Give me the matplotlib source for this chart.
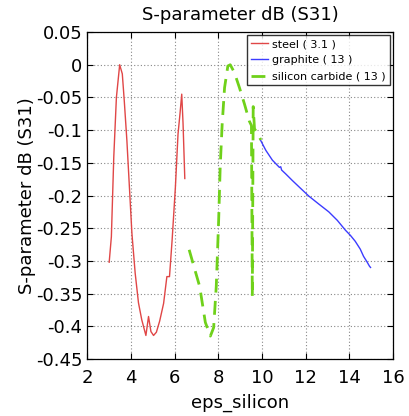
import matplotlib
matplotlib.use("Agg")
import matplotlib.pyplot as plt

steel_x = [3.01, 3.11, 3.22, 3.34, 3.49, 3.61, 3.70, 3.82, 4.05, 4.20, 4.35, 4.50, 4.69, 4.81, 4.92,
           5.04, 5.17, 5.32, 5.50, 5.65, 5.77, 5.89, 6.04, 6.16, 6.25, 6.33, 6.39, 6.47]
steel_y = [-0.302, -0.263, -0.141, -0.050, 0.0, -0.014, -0.055, -0.116, -0.258, -0.319, -0.364, -0.390,
           -0.414, -0.385, -0.408, -0.414, -0.409, -0.392, -0.365, -0.324, -0.324, -0.268, -0.187,
           -0.106, -0.075, -0.045, -0.090, -0.174]

graphite_x = [9.93, 10.18, 10.48, 10.80, 10.86, 10.90, 11.09, 11.39, 11.80, 12.15, 12.60, 13.06, 13.45,
              13.82, 14.05, 14.27, 14.50, 14.65, 14.80, 14.92, 14.97]
graphite_y = [-0.115, -0.131, -0.146, -0.157, -0.156, -0.161, -0.167, -0.177, -0.190, -0.201, -0.213,
              -0.225, -0.238, -0.253, -0.261, -0.270, -0.282, -0.293, -0.301, -0.308, -0.310]

sic_x = [6.67, 6.90, 7.15, 7.41, 7.64, 7.79, 7.91, 8.02, 8.09, 8.18, 8.29, 8.44, 8.55, 8.74, 8.97,
         9.20, 9.42, 9.52, 9.56, 9.60, 9.66, 9.80, 9.95]
sic_y = [-0.283, -0.310, -0.339, -0.394, -0.415, -0.402, -0.339, -0.237, -0.156, -0.091, -0.035,
         -0.002, 0.0, -0.012, -0.035, -0.060, -0.086, -0.093, -0.355, -0.064, -0.098, -0.105, -0.115]

labels = ["steel ( 3.1 )", "graphite ( 13 )", "silicon carbide ( 13 )"]

fig = plt.figure(figsize=(4.09, 4.16), dpi=100)
ax = fig.add_axes([0.213, 0.137, 0.748, 0.786])

ax.plot(steel_x, steel_y, color="#e04646", lw=1.0, label=labels[0])
ax.plot(graphite_x, graphite_y, color="#3c3cff", lw=1.0, label=labels[1])
ax.plot(sic_x, sic_y, color="#6fd11a", lw=2.0, ls=(0, (5, 3)), label=labels[2])

ax.set_xlim(2, 16)
ax.set_ylim(-0.45, 0.05)
ax.set_xticks(range(2, 17, 2))
yt = [0.05, 0, -0.05, -0.1, -0.15, -0.2, -0.25, -0.3, -0.35, -0.4, -0.45]
ax.set_yticks(yt)
ax.set_yticklabels(["0.05", "0", "-0.05", "-0.1", "-0.15", "-0.2", "-0.25", "-0.3", "-0.35", "-0.4", "-0.45"])
ax.tick_params(direction="in", top=True, right=True, labelsize=13, length=4, width=0.8)
ax.tick_params(axis="x", pad=7)
ax.grid(True, ls=(0, (1, 2)), color="#888888", lw=0.8)
for s in ax.spines.values():
    s.set_linewidth(0.9)

ax.set_title("S-parameter dB (S31)", fontsize=13, pad=9)
ax.set_xlabel("eps_silicon", fontsize=13, labelpad=5)
ax.set_ylabel("S-parameter dB (S31)", fontsize=13, labelpad=0)

leg = ax.legend(loc="upper right", fontsize=8, frameon=True, fancybox=False, handlelength=1.5,
                borderaxespad=0.3, labelspacing=0.55, borderpad=0.35, handletextpad=0.4)
leg.get_frame().set_edgecolor("black")
leg.get_frame().set_linewidth(1.0)

fig.savefig("out.png", dpi=100)
